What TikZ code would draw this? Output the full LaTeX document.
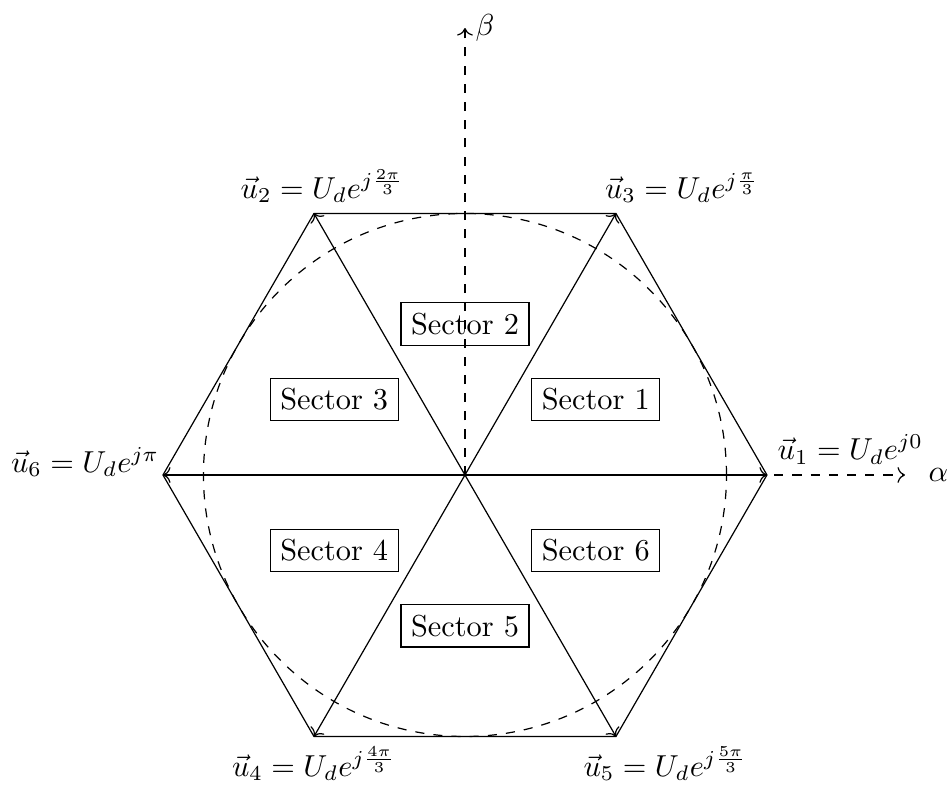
\documentclass[tikz,border=0pt]{standalone}
\usepackage{amsmath, amssymb}
\usepackage{tikz}
\usetikzlibrary{arrows.meta, positioning}

\begin{document}
\begin{tikzpicture}[
  vec/.style={->},
  axis/.style={->, dashed},
  sector/.style={draw, rectangle}
]
\useasboundingbox (-5.389,-3.615) rectangle (5.61,5.505);
\coordinate (O) at (0,0);
\coordinate (v1) at (0:3.5);
\coordinate (v3) at (60:3.5);
\coordinate (v2) at (120:3.5);
\coordinate (v6) at (180:3.5);
\coordinate (v4) at (240:3.5);
\coordinate (v5) at (300:3.5);
\coordinate (a) at (5.1,0);
\coordinate (b) at (0,5.18);

% hexagon and switching vectors
\draw (v1) -- (v3) -- (v2) -- (v6) -- (v4) -- (v5) -- cycle;
\foreach \v in {v1,v2,v3,v4,v5,v6}
  \draw[vec] (O) -- (\v);
\draw[dashed] (O) circle (3.031);

% axes
\draw[axis] (O) -- (a);
\draw[axis] (O) -- (b);
\node[right, xshift=0.15cm] (alpha) at (a) {$\alpha$};
\node[right] (beta) at (b) {$\beta$};

% vector labels
\node[above right] (l1) at (v1) {$\vec{u}_1 = U_d e^{j0}$};
\node[above right, xshift=-0.25cm] (l3) at (v3) {$\vec{u}_3 = U_d e^{j\frac{\pi}{3}}$};
\node[above, xshift=0.1cm] (l2) at (v2) {$\vec{u}_2 = U_d e^{j\frac{2\pi}{3}}$};
\node[left, xshift=0.08cm, yshift=0.15cm] (l6) at (v6) {$\vec{u}_6 = U_d e^{j\pi}$};
\node[below] (l4) at (v4) {$\vec{u}_4 = U_d e^{j\frac{4\pi}{3}}$};
\node[below right, xshift=-0.5cm] (l5) at (v5) {$\vec{u}_5 = U_d e^{j\frac{5\pi}{3}}$};

% sectors
\foreach \k in {1,...,6}
  \node[sector] (s\k) at (60*\k-30:1.75) {Sector \k};
\end{tikzpicture}
\end{document}
